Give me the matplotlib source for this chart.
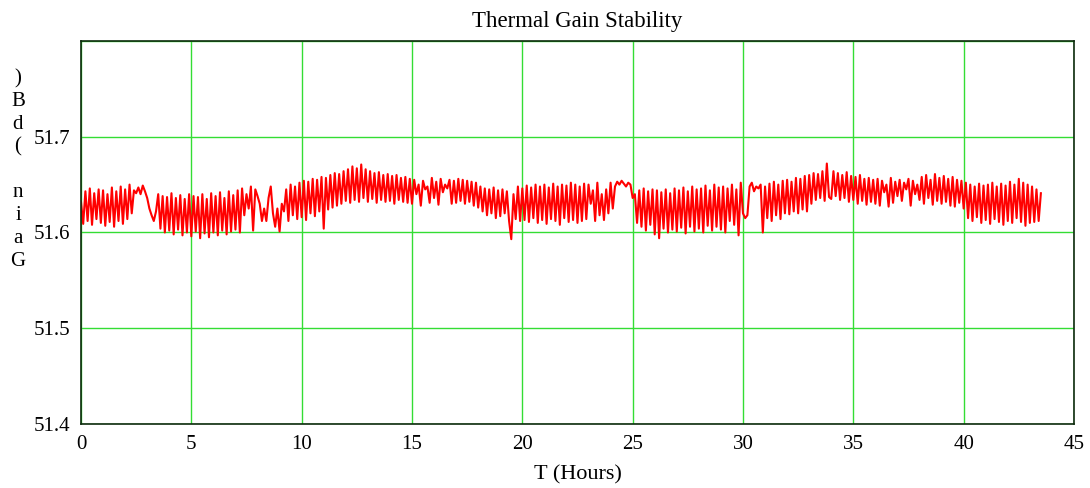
import numpy as np
import matplotlib
matplotlib.use("Agg")
import matplotlib.pyplot as plt

# gain readings (dB), one every 0.1 hour
gain_db = [
    51.632, 51.609, 51.643, 51.612, 51.646, 51.608, 51.641, 51.614, 51.645, 51.610,
    51.644, 51.607, 51.640, 51.611, 51.647, 51.606, 51.643, 51.612, 51.648, 51.609,
    51.645, 51.614, 51.650, 51.620, 51.644, 51.641, 51.647, 51.640, 51.649, 51.643,
    51.636, 51.625, 51.618, 51.612, 51.622, 51.640, 51.604, 51.638, 51.600, 51.637,
    51.602, 51.641, 51.598, 51.636, 51.603, 51.639, 51.597, 51.635, 51.600, 51.640,
    51.596, 51.638, 51.601, 51.637, 51.594, 51.640, 51.599, 51.635, 51.595, 51.641,
    51.600, 51.638, 51.597, 51.642, 51.602, 51.636, 51.598, 51.643, 51.601, 51.639,
    51.603, 51.644, 51.600, 51.646, 51.618, 51.640, 51.625, 51.648, 51.602, 51.645,
    51.638, 51.630, 51.612, 51.625, 51.612, 51.636, 51.648, 51.620, 51.606, 51.625,
    51.601, 51.630, 51.622, 51.645, 51.612, 51.650, 51.618, 51.648, 51.614, 51.652,
    51.616, 51.654, 51.613, 51.653, 51.620, 51.656, 51.617, 51.655, 51.622, 51.658,
    51.604, 51.657, 51.624, 51.660, 51.626, 51.662, 51.628, 51.661, 51.630, 51.664,
    51.633, 51.666, 51.631, 51.669, 51.634, 51.667, 51.632, 51.671, 51.636, 51.666,
    51.632, 51.664, 51.635, 51.662, 51.631, 51.663, 51.634, 51.660, 51.632, 51.661,
    51.633, 51.659, 51.630, 51.660, 51.634, 51.657, 51.632, 51.658, 51.631, 51.656,
    51.630, 51.655, 51.640, 51.650, 51.628, 51.654, 51.645, 51.648, 51.631, 51.657,
    51.636, 51.653, 51.629, 51.656, 51.642, 51.650, 51.646, 51.655, 51.630, 51.654,
    51.631, 51.656, 51.633, 51.655, 51.630, 51.654, 51.632, 51.653, 51.628, 51.652,
    51.626, 51.648, 51.622, 51.646, 51.618, 51.645, 51.620, 51.647, 51.615, 51.644,
    51.617, 51.645, 51.620, 51.643, 51.612, 51.593, 51.640, 51.614, 51.648, 51.612,
    51.646, 51.613, 51.649, 51.611, 51.647, 51.615, 51.650, 51.610, 51.648, 51.613,
    51.650, 51.609, 51.647, 51.614, 51.651, 51.612, 51.648, 51.608, 51.650, 51.615,
    51.649, 51.611, 51.652, 51.613, 51.650, 51.610, 51.648, 51.612, 51.651, 51.614,
    51.650, 51.630, 51.644, 51.612, 51.652, 51.618, 51.640, 51.613, 51.645, 51.620,
    51.652, 51.625, 51.648, 51.653, 51.650, 51.654, 51.651, 51.648, 51.652, 51.650,
    51.636, 51.640, 51.610, 51.644, 51.606, 51.646, 51.602, 51.643, 51.608, 51.645,
    51.598, 51.644, 51.594, 51.642, 51.604, 51.645, 51.600, 51.641, 51.603, 51.646,
    51.601, 51.644, 51.605, 51.647, 51.599, 51.643, 51.606, 51.648, 51.601, 51.645,
    51.604, 51.646, 51.600, 51.649, 51.607, 51.644, 51.602, 51.650, 51.606, 51.647,
    51.603, 51.648, 51.600, 51.646, 51.612, 51.650, 51.608, 51.645, 51.597, 51.652,
    51.620, 51.615, 51.618, 51.648, 51.652, 51.643, 51.648, 51.646, 51.650, 51.600,
    51.648, 51.615, 51.651, 51.612, 51.653, 51.618, 51.650, 51.614, 51.654, 51.620,
    51.655, 51.619, 51.653, 51.622, 51.657, 51.620, 51.656, 51.624, 51.659, 51.622,
    51.660, 51.630, 51.662, 51.634, 51.661, 51.636, 51.664, 51.633, 51.672, 51.637,
    51.635, 51.664, 51.638, 51.662, 51.634, 51.660, 51.636, 51.663, 51.632, 51.659,
    51.634, 51.658, 51.630, 51.660, 51.633, 51.656, 51.629, 51.657, 51.632, 51.655,
    51.630, 51.656, 51.628, 51.654, 51.642, 51.650, 51.627, 51.657, 51.631, 51.653,
    51.638, 51.655, 51.633, 51.652, 51.645, 51.656, 51.628, 51.654, 51.640, 51.650,
    51.634, 51.658, 51.630, 51.660, 51.636, 51.655, 51.629, 51.661, 51.633, 51.657,
    51.630, 51.659, 51.632, 51.656, 51.628, 51.658, 51.627, 51.655, 51.631, 51.654,
    51.625, 51.652, 51.615, 51.650, 51.612, 51.648, 51.616, 51.651, 51.610, 51.649,
    51.613, 51.650, 51.609, 51.652, 51.614, 51.648, 51.611, 51.651, 51.608, 51.649,
    51.612, 51.653, 51.610, 51.650, 51.615, 51.656, 51.611, 51.652, 51.607, 51.650,
    51.610, 51.648, 51.611, 51.645, 51.612, 51.641,
]
sample_step = 0.1  # hours between readings
hours = np.arange(len(gain_db)) * sample_step

x_ticks = [0, 5, 10, 15, 20, 25, 30, 35, 40, 45]
y_ticks = [51.4, 51.5, 51.6, 51.7, 51.8]

plt.rcParams['font.family'] = ['Liberation Serif', 'DejaVu Serif']

fig = plt.figure(figsize=(10.9, 4.88), dpi=100)
ax = fig.add_axes([0.0743, 0.1311, 0.911, 0.785])

ax.plot(hours, gain_db, color='#ff0000', linewidth=1.5)

ax.set_xlim(0, 45)
ax.set_ylim(51.4, 51.8)
ax.set_xticks(x_ticks)
ax.set_yticks(y_ticks)
ax.set_yticklabels(['51.4', '51.5', '51.6', '51.7', ''])
ax.tick_params(length=0, labelsize=15, pad=8)
ax.grid(True, color='#33dd33', linewidth=1.0)
ax.set_axisbelow(True)
for s in ax.spines.values():
    s.set_color('#0d2a0d')
    s.set_linewidth(1.2)

ax.set_title('Thermal Gain Stability', fontsize=16.5, pad=10)
ax.set_xlabel('T (Hours)', fontsize=16, labelpad=8)

# y label drawn as stacked characters, as in the original
fig.text(0.0165, 0.652, '\n'.join(reversed('Gain (dB)')), fontsize=15,
         ha='center', va='center', linespacing=1.27)

fig.savefig('out.png', dpi=100)
